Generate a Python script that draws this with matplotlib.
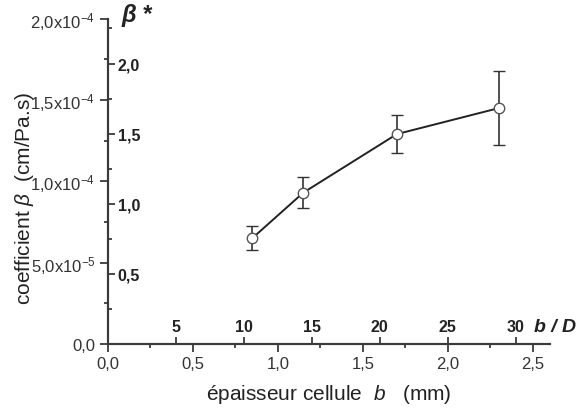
import matplotlib as mpl
mpl.use('Agg')

import matplotlib.pyplot as plt
import numpy as np
from matplotlib.ticker import MultipleLocator, FixedLocator, FixedFormatter

plt.rcParams['font.family'] = ['Liberation Sans', 'DejaVu Sans']
plt.rcParams['mathtext.fontset'] = 'custom'
plt.rcParams['mathtext.rm'] = 'Liberation Sans'
plt.rcParams['mathtext.it'] = 'Liberation Sans:italic'
plt.rcParams['mathtext.bf'] = 'Liberation Sans:bold'

# data
epaisseur = [0.85, 1.15, 1.70, 2.30]            # b (mm)
beta = [6.5e-5, 9.3e-5, 1.29e-4, 1.45e-4]       # cm/Pa.s
beta_err = [0.75e-5, 0.95e-5, 1.17e-5, 2.3e-5]

y_ticks = [0.0, 5.0e-5, 1.0e-4, 1.5e-4, 2.0e-4]
y_ticklabels = ['0,0', r'5,0x10$^{-5}$', r'1,0x10$^{-4}$', r'1,5x10$^{-4}$', r'2,0x10$^{-4}$']
x_ticks = [0.0, 0.5, 1.0, 1.5, 2.0, 2.5]
x_ticklabels = ['0,0', '0,5', '1,0', '1,5', '2,0', '2,5']
bstar_ticks = [0.5, 1.0, 1.5, 2.0]
bstar_ticklabels = ['0,5', '1,0', '1,5', '2,0']
bD_ticks = [5, 10, 15, 20, 25, 30]
bD_ticklabels = ['5', '10', '15', '20', '25', '30']

bstar_factor = 11600.0   # beta* = beta * factor
bD_factor = 12.5         # b/D = b * factor

xmax = 2.6
ymax = 2.0e-4
spine_col = '#3a3a3a'

fig = plt.figure(figsize=(5.8, 4.1), dpi=100)
ax = fig.add_axes([0.186, 0.159, 0.762, 0.793])

ax.errorbar(epaisseur, beta, yerr=beta_err, color='#222222', lw=1.4,
            marker='o', ms=7.5, mfc='white', mec='#555555', mew=1.0,
            ecolor='#333333', elinewidth=1.2, capsize=4.5, capthick=1.2, zorder=3)

ax.set_xlim(0, xmax)
ax.set_ylim(0, ymax)
for s in ['top', 'right']:
    ax.spines[s].set_visible(False)
for s in ['left', 'bottom']:
    ax.spines[s].set_color(spine_col)
    ax.spines[s].set_linewidth(1.5)

ax.yaxis.set_major_locator(FixedLocator(y_ticks))
ax.yaxis.set_major_formatter(FixedFormatter(y_ticklabels))
ax.yaxis.set_minor_locator(MultipleLocator(2.5e-5))
ax.xaxis.set_major_locator(FixedLocator(x_ticks))
ax.xaxis.set_major_formatter(FixedFormatter(x_ticklabels))
ax.xaxis.set_minor_locator(MultipleLocator(0.25))
ax.tick_params(which='major', direction='out', length=6, width=1.3, color=spine_col,
               labelsize=12, labelcolor='#333333', pad=3)
ax.tick_params(which='minor', direction='out', length=3, width=1.3, color=spine_col)

ax.set_xlabel(r'épaisseur cellule  $b$   (mm)', fontsize=15, color='#222222', labelpad=8)
ax.set_ylabel(r'coefficient $\beta$  (cm/Pa.s)', fontsize=15, color='#222222')
ax.yaxis.set_label_coords(-0.163, 0.45)

# beta* scale, ticks on the inside of the left spine
ax2 = ax.twinx()
ax2.set_ylim(0, ymax * bstar_factor)
ax2.spines['right'].set_position(('axes', 0))
for s in ['top', 'left', 'bottom']:
    ax2.spines[s].set_visible(False)
ax2.spines['right'].set_color(spine_col)
ax2.spines['right'].set_linewidth(1.5)
ax2.yaxis.set_major_locator(FixedLocator(bstar_ticks))
ax2.yaxis.set_major_formatter(FixedFormatter(bstar_ticklabels))
ax2.yaxis.set_minor_locator(MultipleLocator(0.25))
ax2.tick_params(which='major', direction='out', length=5, width=1.3, color=spine_col,
                labelsize=11.5, pad=2)
ax2.tick_params(which='minor', direction='out', length=3, width=1.3, color=spine_col)
for lab in ax2.get_yticklabels():
    lab.set_fontweight('bold')
    lab.set_color('#222222')

# b/D scale, ticks pointing up from the bottom spine
ax3 = ax.twiny()
ax3.set_xlim(0, xmax * bD_factor)
ax3.spines['top'].set_position(('axes', 0))
for s in ['right', 'left', 'bottom']:
    ax3.spines[s].set_visible(False)
ax3.spines['top'].set_color(spine_col)
ax3.spines['top'].set_linewidth(1.5)
ax3.xaxis.set_major_locator(FixedLocator(bD_ticks))
ax3.xaxis.set_major_formatter(FixedFormatter(bD_ticklabels))
ax3.tick_params(which='major', direction='out', length=5, width=1.3, color=spine_col,
                labelsize=11.5, pad=2)
for lab in ax3.get_xticklabels():
    lab.set_fontweight('bold')
    lab.set_color('#222222')

fig.text(0.921, 0.202, 'b / D', fontsize=14, fontweight='bold', fontstyle='italic',
         ha='left', va='center', color='#222222')
fig.text(0.210, 0.962, 'β *', fontsize=17, fontweight='bold', fontstyle='italic',
         ha='left', va='center', color='#222222')

fig.savefig('out.png', dpi=100)
